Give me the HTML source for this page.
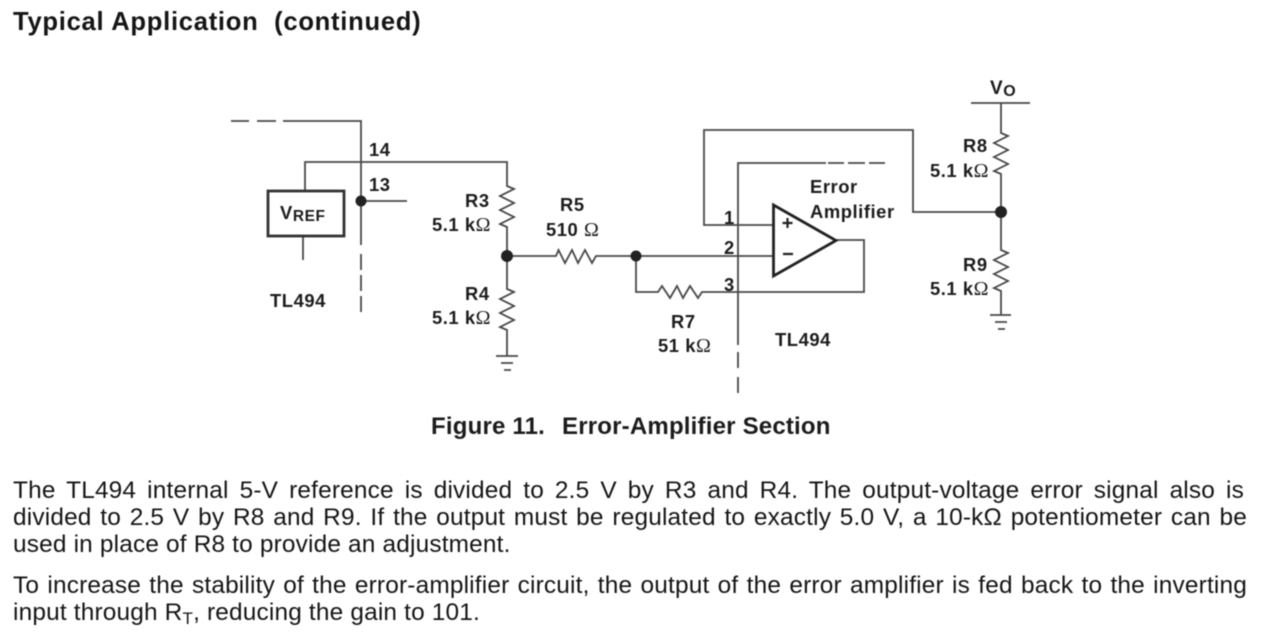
<!DOCTYPE html>
<html><head><meta charset="utf-8"><style>
html,body{margin:0;padding:0;background:#fff}
#p{position:relative;width:1280px;height:632px;overflow:hidden;background:#fff;font-family:"Liberation Sans",Arial,sans-serif;color:#151515;filter:blur(.45px)}
.l{position:absolute;left:13px;width:1234px;font-size:24.400px;line-height:27px;white-space:nowrap;text-align:justify;text-align-last:justify;letter-spacing:.18px}
.s{text-align:left;text-align-last:left;width:auto}
svg{position:absolute;left:0;top:0}
svg text{font-family:"Liberation Sans",Arial,sans-serif;fill:#1c1c1c}
.o{font-family:"Liberation Serif",serif;font-weight:normal;font-size:20px;letter-spacing:0}
sub{font-size:17px;vertical-align:-4px;line-height:0}
</style></head><body><div id="p">
<div class="l s" style="top:8px;font-weight:bold;font-size:25.600px;line-height:29px;white-space:pre;letter-spacing:.72px">Typical Application  (continued)</div>
<svg width="1280" height="632" viewBox="0 0 1280 632">
<g fill="none" stroke="#484848" stroke-width="1.800">
<path d="M231 121H249M257 121H276M283 121H361V245M361 254V270M361 275V291M361 296V312"/>
<path d="M305 190V162H507V186l7 3-14 7 14 7-14 7 14 7-14 7 7 3V289l7 3-14 7 14 7-14 7 14 7-14 7 7 3V356"/>
<path d="M303 236V260M361 201H407"/>
<path d="M496 356H518M501 363H513M504 370H511"/>
<path d="M507 256H556L558.500 250 565 263 572 250 578 263 585 250 592 263 596 256H773"/>
<path d="M636 256V292H658L662 286 670 298 677 286 683 298 690 286 698 298 702 292H864V240H837"/>
<path d="M738 345V163H826M828 163H844M848 163H865M869 163H885M738 352V368M738 377V393"/>
<path d="M773 225H704V130H913V212H1001"/>
<path d="M971 103H1030M1001 103V133l7 3-14 7 14 7-14 7 14 7-14 7 7 3V250l7 3-14 7 14 7-14 7 14 7-14 7 7 3V315"/>
<path d="M990 315H1011M995 322H1007M998 329H1005"/>
</g>
<rect x="268" y="191" width="76" height="45" fill="#fff" stroke="#333" stroke-width="2.800"/>
<path d="M773.500 205L836 240.500L773.500 276Z" fill="#fff" stroke="#222" stroke-width="2.800"/>
<path d="M782.500 223H792.500M787.500 218V228M783 254H793" stroke="#222" stroke-width="2.200"/>
<g fill="#222"><circle cx="361" cy="201" r="5.500"/><circle cx="507" cy="256" r="6"/><circle cx="636" cy="256" r="5.500"/><circle cx="1001" cy="212" r="6"/></g>
<g font-size="18.400" font-weight="bold" letter-spacing=".55">
<text x="369" y="156">14</text><text x="369" y="191">13</text>
<text x="280" y="219">V<tspan font-size="15.500" dy="2">REF</tspan></text>
<text x="270" y="307">TL494</text>
<text x="465" y="207">R3</text><text x="432" y="231">5.1 k<tspan class="o">Ω</tspan></text>
<text x="465" y="300">R4</text><text x="432" y="324">5.1 k<tspan class="o">Ω</tspan></text>
<text x="560" y="211">R5</text><text x="546" y="236">510 <tspan class="o">Ω</tspan></text>
<text x="671" y="328">R7</text><text x="658" y="352">51 k<tspan class="o">Ω</tspan></text>
<text x="775" y="346">TL494</text>
<text x="810" y="193">Error</text><text x="810" y="218">Amplifier</text>
<text x="724" y="224">1</text><text x="724" y="254">2</text><text x="724" y="291">3</text>
<text x="963" y="152">R8</text><text x="930" y="177">5.1 k<tspan class="o">Ω</tspan></text>
<text x="963" y="271">R9</text><text x="930" y="295">5.1 k<tspan class="o">Ω</tspan></text>
<text x="990" y="94" font-size="19">V<tspan font-size="16" dy="2">O</tspan></text>
</g>
<text y="434" font-size="24" font-weight="bold" letter-spacing=".2"><tspan x="431">Figure 11.</tspan><tspan x="562">Error-Amplifier Section</tspan></text>
</svg>
<div class="l" style="top:477px;width:1231px">The TL494 internal 5-V reference is divided to 2.5 V by R3 and R4. The output-voltage error signal also is</div>
<div class="l" style="top:504px">divided to 2.5 V by R8 and R9. If the output must be regulated to exactly 5.0 V, a 10-kΩ potentiometer can be</div>
<div class="l s" style="top:531px">used in place of R8 to provide an adjustment.</div>
<div class="l" style="top:572px">To increase the stability of the error-amplifier circuit, the output of the error amplifier is fed back to the inverting</div>
<div class="l s" style="top:599px">input through R<sub>T</sub>, reducing the gain to 101.</div>
</div></body></html>
